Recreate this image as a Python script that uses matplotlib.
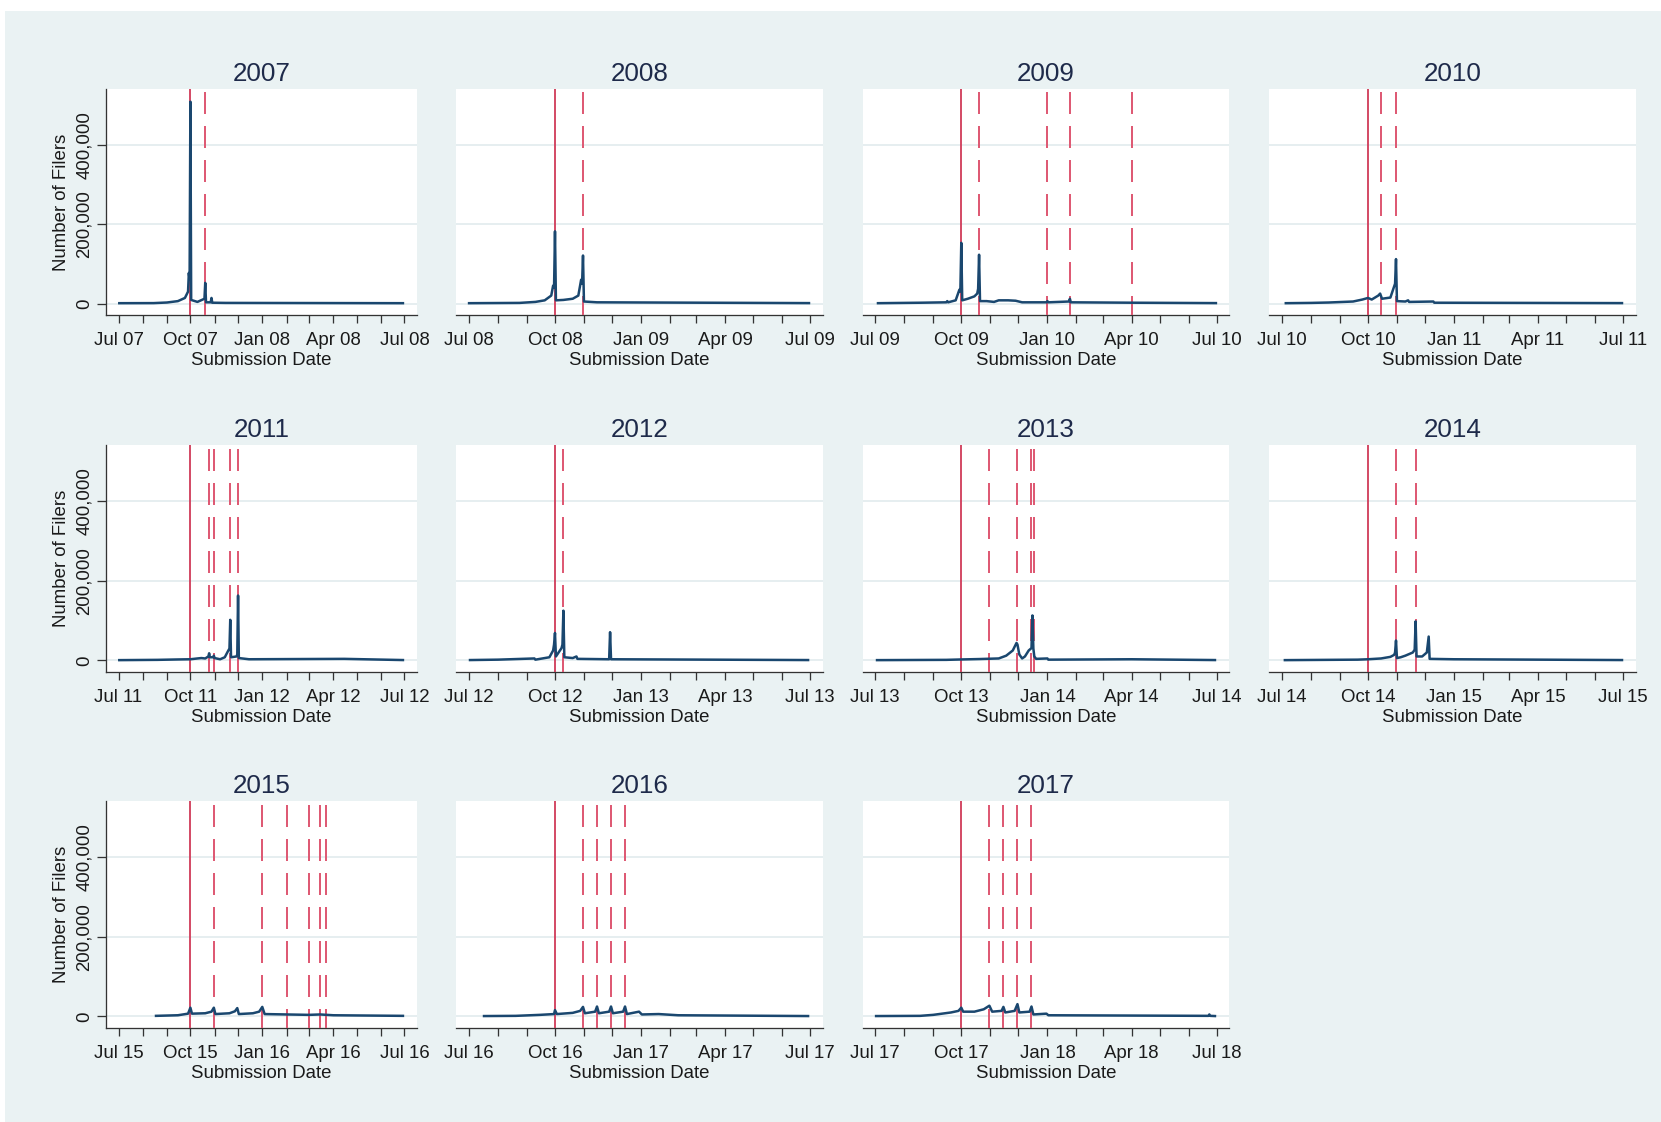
import matplotlib
matplotlib.use("Agg")
import matplotlib.pyplot as plt
import matplotlib.dates as mdates
from matplotlib.patches import Rectangle
import pandas as pd

plt.rcParams["font.family"] = ["Liberation Sans", "DejaVu Sans"]

# daily filers per program year (key days only; line joins them)
dates_2007 = ["2007-07-02", "2007-08-15", "2007-09-01", "2007-09-15", "2007-09-24", "2007-09-28",
              "2007-09-29", "2007-09-30", "2007-10-01", "2007-10-02", "2007-10-10", "2007-10-19",
              "2007-10-20", "2007-10-21", "2007-10-27", "2007-10-28", "2007-10-29", "2007-11-15",
              "2008-06-29"]
filers_2007 = [800, 1000, 2500, 6000, 14000, 30000, 77000, 60000, 509000, 9000, 4000, 12000,
               52000, 3000, 3000, 14000, 2000, 1500, 800]

dates_2008 = ["2008-07-01", "2008-08-24", "2008-09-10", "2008-09-20", "2008-09-27", "2008-09-29",
              "2008-09-30", "2008-10-01", "2008-10-02", "2008-10-10", "2008-10-20", "2008-10-26",
              "2008-10-29", "2008-10-30", "2008-10-31", "2008-11-01", "2008-11-15", "2009-06-30"]
filers_2008 = [800, 1500, 4000, 8000, 20000, 45000, 40000, 182000, 8000, 9000, 12000, 20000,
               60000, 50000, 121000, 5000, 3000, 1000]

dates_2009 = ["2009-07-04", "2009-08-20", "2009-09-15", "2009-09-16", "2009-09-17", "2009-09-25",
              "2009-09-29", "2009-09-30", "2009-10-01", "2009-10-02", "2009-10-08", "2009-10-15",
              "2009-10-18", "2009-10-19", "2009-10-20", "2009-10-21", "2009-10-28", "2009-11-05",
              "2009-11-10", "2009-11-20", "2009-11-28", "2009-12-05", "2009-12-31", "2010-01-01",
              "2010-01-02", "2010-01-24", "2010-01-25", "2010-01-26", "2010-04-01", "2010-06-30"]
filers_2009 = [800, 2000, 3000, 6000, 3000, 8000, 35000, 30000, 153000, 8000, 12000, 18000,
               25000, 37000, 123000, 6000, 6000, 4000, 8000, 8000, 7000, 3000, 3000, 6000,
               3000, 5000, 12000, 3000, 2000, 1000]

dates_2010 = ["2010-07-05", "2010-08-01", "2010-08-20", "2010-09-15", "2010-09-25", "2010-10-01",
              "2010-10-05", "2010-10-12", "2010-10-14", "2010-10-16", "2010-10-25", "2010-10-29",
              "2010-10-30", "2010-10-31", "2010-11-01", "2010-11-10", "2010-11-13", "2010-11-14",
              "2010-12-10", "2010-12-11", "2011-06-30"]
filers_2010 = [800, 1500, 2500, 5000, 10000, 14000, 10000, 20000, 25000, 12000, 15000, 43000,
               50000, 112000, 6000, 5000, 8000, 4000, 5000, 2000, 1000]

dates_2011 = ["2011-07-02", "2011-08-20", "2011-09-15", "2011-10-01", "2011-10-10", "2011-10-15",
              "2011-10-20", "2011-10-24", "2011-10-25", "2011-10-26", "2011-10-30", "2011-10-31",
              "2011-11-01", "2011-11-08", "2011-11-14", "2011-11-18", "2011-11-20", "2011-11-21",
              "2011-11-22", "2011-11-29", "2011-11-30", "2011-12-01", "2011-12-02", "2011-12-15",
              "2012-04-15", "2012-06-29"]
filers_2011 = [800, 1500, 2500, 3000, 5000, 6000, 5000, 10000, 18000, 8000, 8000, 12000,
               6000, 3000, 8000, 23000, 30000, 102000, 8000, 10000, 15000, 163000, 6000, 3000,
               4000, 1000]

dates_2012 = ["2012-07-02", "2012-08-01", "2012-09-09", "2012-09-10", "2012-09-25", "2012-09-29",
              "2012-09-30", "2012-10-01", "2012-10-02", "2012-10-08", "2012-10-09", "2012-10-10",
              "2012-10-11", "2012-10-20", "2012-10-24", "2012-10-25", "2012-11-28", "2012-11-29",
              "2012-11-30", "2013-06-29"]
filers_2012 = [1000, 2000, 5000, 2000, 8000, 25000, 40000, 69000, 10000, 31000, 40000, 125000,
               8000, 6000, 10000, 4000, 3000, 71000, 3000, 1000]

dates_2013 = ["2013-07-03", "2013-09-15", "2013-10-01", "2013-10-20", "2013-11-10", "2013-11-18",
              "2013-11-25", "2013-11-29", "2013-11-30", "2013-12-02", "2013-12-05", "2013-12-08",
              "2013-12-12", "2013-12-15", "2013-12-16", "2013-12-17", "2013-12-18", "2013-12-20",
              "2014-01-01", "2014-01-02", "2014-04-01", "2014-06-29"]
filers_2013 = [800, 1500, 2500, 3500, 5000, 12000, 25000, 44000, 40000, 15000, 5000, 10000,
               25000, 31000, 113000, 30000, 10000, 4000, 5000, 2000, 3000, 1000]

dates_2014 = ["2014-07-04", "2014-09-20", "2014-10-01", "2014-10-15", "2014-10-25", "2014-10-29",
              "2014-10-30", "2014-10-31", "2014-11-01", "2014-11-05", "2014-11-10", "2014-11-18",
              "2014-11-20", "2014-11-21", "2014-11-22", "2014-11-28", "2014-12-03", "2014-12-05",
              "2014-12-06", "2015-01-01", "2015-06-30"]
filers_2014 = [800, 2000, 3000, 5000, 9000, 14000, 20000, 50000, 6000, 8000, 12000, 20000,
               27000, 98000, 10000, 10000, 20000, 60000, 4000, 3000, 1000]

dates_2015 = ["2015-08-18", "2015-09-15", "2015-09-28", "2015-10-01", "2015-10-03", "2015-10-20",
              "2015-10-28", "2015-10-31", "2015-11-02", "2015-11-20", "2015-11-27", "2015-11-30",
              "2015-12-02", "2015-12-20", "2015-12-28", "2016-01-01", "2016-01-04", "2016-02-01",
              "2016-03-01", "2016-03-15", "2016-04-01", "2016-06-29"]
filers_2015 = [1500, 3000, 7000, 22000, 7000, 8000, 12000, 22000, 6000, 8000, 13000, 21000,
               6000, 8000, 12000, 24000, 6000, 5000, 4000, 5000, 3000, 1500]

dates_2016 = ["2016-07-17", "2016-08-20", "2016-09-15", "2016-09-30", "2016-10-01", "2016-10-03",
              "2016-10-20", "2016-10-28", "2016-10-31", "2016-11-02", "2016-11-13", "2016-11-15",
              "2016-11-17", "2016-11-28", "2016-11-30", "2016-12-02", "2016-12-13", "2016-12-15",
              "2016-12-17", "2016-12-30", "2017-01-02", "2017-01-20", "2017-02-10", "2017-06-29"]
filers_2016 = [1000, 1500, 4000, 6000, 16000, 6000, 9000, 14000, 24000, 8000, 12000, 25000,
               8000, 12000, 25000, 8000, 12000, 25000, 6000, 12000, 5000, 6000, 3000, 1000]

dates_2017 = ["2017-07-02", "2017-08-18", "2017-09-01", "2017-09-20", "2017-09-28", "2017-10-01",
              "2017-10-03", "2017-10-15", "2017-10-25", "2017-10-31", "2017-11-03", "2017-11-13",
              "2017-11-15", "2017-11-17", "2017-11-27", "2017-11-30", "2017-12-02", "2017-12-13",
              "2017-12-15", "2017-12-17", "2017-12-31", "2018-01-02", "2018-06-22", "2018-06-23",
              "2018-06-24", "2018-06-29"]
filers_2017 = [1000, 1500, 4000, 10000, 14000, 22000, 12000, 12000, 18000, 27000, 12000, 14000,
               24000, 10000, 14000, 31000, 10000, 12000, 25000, 5000, 7000, 3000, 1500, 5000,
               1500, 1000]

# opening day (solid) and deadlines (dashed)
years = [2007, 2008, 2009, 2010, 2011, 2012, 2013, 2014, 2015, 2016, 2017]
open_day = "10-01"
deadlines = [
    ["2007-10-20"],
    ["2008-10-31"],
    ["2009-10-20", "2010-01-01", "2010-01-25", "2010-04-01"],
    ["2010-10-15", "2010-10-31"],
    ["2011-10-25", "2011-10-31", "2011-11-21", "2011-12-01"],
    ["2012-10-10"],
    ["2013-10-31", "2013-11-30", "2013-12-15", "2013-12-18"],
    ["2014-10-31", "2014-11-21"],
    ["2015-10-31", "2016-01-01", "2016-02-01", "2016-03-01", "2016-03-15", "2016-03-22"],
    ["2016-10-31", "2016-11-15", "2016-11-30", "2016-12-15"],
    ["2017-10-31", "2017-11-15", "2017-11-30", "2017-12-15"],
]
series = [
    (dates_2007, filers_2007), (dates_2008, filers_2008), (dates_2009, filers_2009),
    (dates_2010, filers_2010), (dates_2011, filers_2011), (dates_2012, filers_2012),
    (dates_2013, filers_2013), (dates_2014, filers_2014), (dates_2015, filers_2015),
    (dates_2016, filers_2016), (dates_2017, filers_2017),
]
y_ticks = [0, 200000, 400000]
y_ticklabels = ["0", "200,000", "400,000"]

# layout in pixels
W, H, DPI = 1661, 1122, 100
PT = 72 / DPI
col_left = [106, 456, 863, 1269]
col_right = [417, 823, 1229, 1636]
row_top = [89, 445, 801]
row_bottom = [315, 672, 1028]
col_pad_days = [16, 14, 13, 14]

navy = "#1a476f"
red_solid = "#d03a58"
red_dash = "#de5a74"
ink = "#1a1a1a"
title_ink = "#1e2a4a"

fig = plt.figure(figsize=(W / DPI, H / DPI), dpi=DPI, facecolor="white")
fig.patches.append(Rectangle((5 / W, 0), 1, 1 - 11 / H, transform=fig.transFigure,
                             facecolor="#eaf2f3", edgecolor="none", zorder=-10))

for i, year in enumerate(years):
    r, c = divmod(i, 4)
    left, right = col_left[c], col_right[c]
    top, bottom = row_top[r], row_bottom[r]
    ax = fig.add_axes([left / W, 1 - bottom / H, (right - left) / W, (bottom - top) / H])
    ax.set_facecolor("white")

    d, v = series[i]
    ax.plot(pd.to_datetime(d), v, color=navy, lw=2.5 * PT, zorder=4)

    ax.axvline(pd.Timestamp(f"{year}-{open_day}"), color=red_solid, lw=1.8 * PT, zorder=3)
    for dl in deadlines[i]:
        ax.axvline(pd.Timestamp(dl), color=red_dash, lw=2.0 * PT, zorder=3,
                   linestyle=(1.5, (11.0, 6.0)))

    pad = pd.Timedelta(days=col_pad_days[c])
    ax.set_xlim(pd.Timestamp(f"{year}-07-01") - pad, pd.Timestamp(f"{year + 1}-07-01") + pad)
    ax.set_ylim(-29000, 541000)

    ax.xaxis.set_major_locator(mdates.MonthLocator(bymonth=[1, 4, 7, 10]))
    ax.xaxis.set_minor_locator(mdates.MonthLocator())
    ax.xaxis.set_major_formatter(mdates.DateFormatter("%b %y"))
    ax.tick_params(axis="x", which="both", length=8 * PT, width=1.3 * PT, color="#333333",
                   pad=9 * PT, labelsize=18.6 * PT, labelcolor=ink)

    ax.set_yticks(y_ticks)
    ax.yaxis.grid(True, color="#e6eef0", lw=2.0 * PT, zorder=0)
    ax.set_axisbelow(True)
    for s in ["top", "right"]:
        ax.spines[s].set_visible(False)
    ax.spines["bottom"].set_color("#333333")
    ax.spines["bottom"].set_linewidth(1.3 * PT)

    if c == 0:
        ax.set_yticklabels(y_ticklabels, rotation=90, va="center")
        ax.tick_params(axis="y", length=9 * PT, width=1.3 * PT, color="#333333",
                       pad=4 * PT, labelsize=18.6 * PT, labelcolor=ink)
        ax.spines["left"].set_color("#333333")
        ax.spines["left"].set_linewidth(1.3 * PT)
        ax.annotate("Number of Filers", xy=(0, 0.5), xycoords="axes fraction",
                    xytext=(-44, 0), textcoords="offset pixels", rotation=90,
                    ha="center", va="center", fontsize=18.6 * PT, color=ink)
    else:
        ax.spines["left"].set_visible(False)
        ax.tick_params(axis="y", length=0, labelleft=False)

    ax.set_title(str(year), fontsize=26 * PT, color=title_ink, pad=8 * PT)
    ax.annotate("Submission Date", xy=(0.5, 0), xycoords="axes fraction",
                xytext=(0, -50), textcoords="offset pixels", ha="center", va="baseline",
                fontsize=18.6 * PT, color=ink)

fig.savefig("out.png", dpi=DPI, facecolor="white")
